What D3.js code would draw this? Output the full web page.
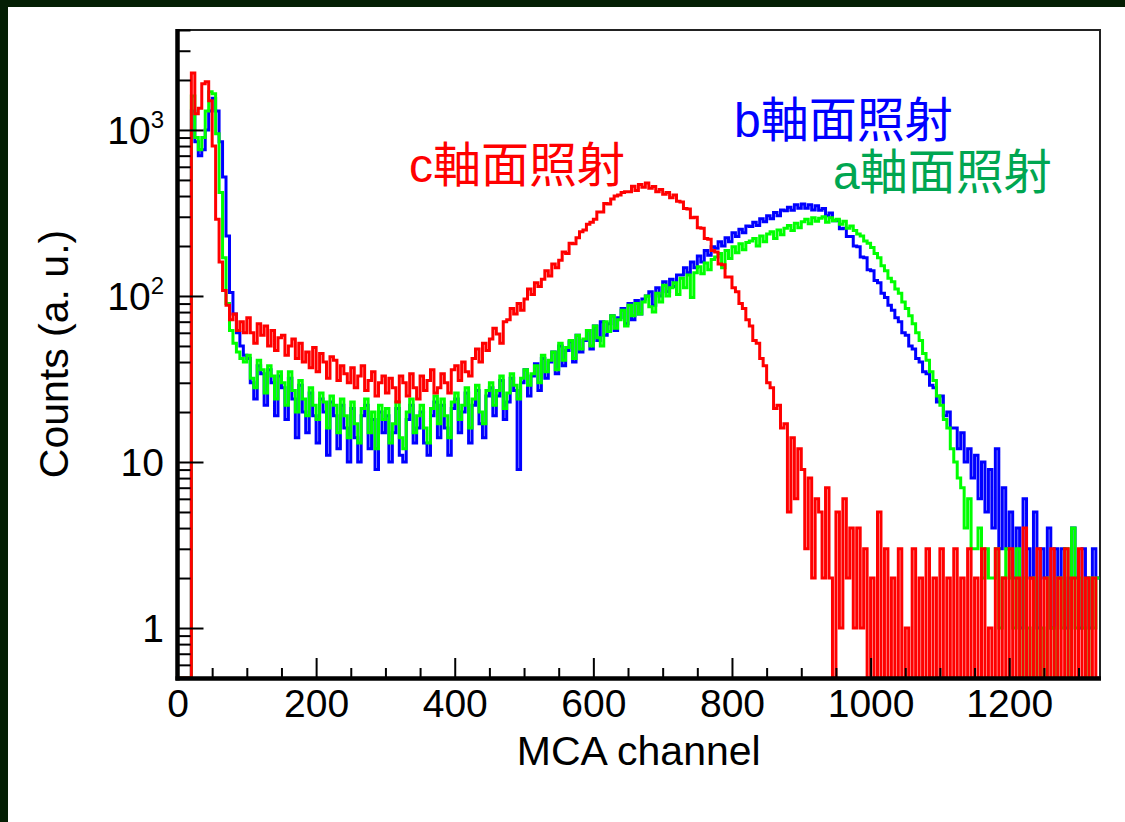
<!DOCTYPE html>
<html>
<head>
<meta charset="utf-8">
<script src="https://cdn.jsdelivr.net/npm/d3@7"></script>
<style>
  html, body { margin: 0; padding: 0; background: #ffffff; }
  svg { display: block; }
</style>
</head>
<body>
<svg id="chart" width="1125" height="822"></svg>
<script>
// ---------------- DATA (counts per 5-channel bin, starting at channel 0) ----------------
const binWidth = 5;
const channelMax = 1331;
const countRange = [0.5, 4000];

// c-axis irradiation (red)
const countsC = [
  0,0,0,0,
  2200,1250,1350,1900,1950,1500,800,290,160,108,88,72,78,62,70,60,
  74,60,52,68,58, 66,50,62,47,56, 58,44,50,55,42, 52,40,46,37,49,
  35,45,40,32,43, 41,31,38,34,30, 37,28,33,38,27, 31,35,25,30,33,
  26,32,28,23,33, 30,25,34,28,24, 33,27,31,36,26, 28,34,30,26,36,
  38,31,40,35,33, 42,48,40,52,47, 55,64,59,52,70, 72,84,78,90,82,
  96,110,102,120,114, 126,142,132,156,148, 164,184,180,208,206, 224,244,250,270,278,
  290,320,320,360,358, 384,400,406,420,424, 424,458,432,470,452, 480,446,456,424,438,
  410,420,390,406,372, 368,336,334,296,298, 258,256,222,220,188, 184,156,154,130,130,
  112,106,90,84,72, 66,54,52,42,38, 30,28,21,22,16, 17,5,14,6,12,
  9,3,8,2,6, 5,2,7,2,0, 5,1,6,2,4, 1,4,1,3,0,
  2,0,5,0,3, 0,2,0,3,0, 1,0,3,0,2, 0,3,0,2,0,
  3,0,2,0,3, 0,2,0,3,0, 2,0,3,0,1, 0,3,0,2,0,
  3,0,2,0,4, 0,2,0,3,0, 2,0,3,0,2, 0,3,0,2,0,
  3,0,2,0,2, 0
];

// b-axis irradiation (blue)
const countsB = [
  0,0,0,0,
  1300,850,700,760,1000,1300,1550,1300,850,520,230,105,78,60,50,44,
  42,30,24,38,34, 22,36,30,19,33, 28,18,32,24,14, 29,20,15,26,19,
  13,24,20,11,23, 19,12,22,16,10, 21,14,10,19,22, 12,18,9,20,15,
  19,10,15,21,11, 10,18,22,13,16, 20,13,11,19,23, 14,22,16,11,21,
  24,15,20,26,13, 22,27,17,14,25, 28,19,25,31,18, 23,32,27,9,30,
  36,25,33,39,27, 42,32,40,46,34, 50,38,47,53,40, 58,46,54,62,48,
  66,54,70,58,68, 76,62,74,84,68, 90,72,94,78,96, 100,106,88,112,100,
  122,106,126,114,134, 134,148,138,160,148, 174,160,188,176,198, 194,212,200,224,212,
  240,228,252,240,264, 262,278,266,292,280, 304,292,318,304,330, 326,342,328,354,338,
  358,338,354,330,350, 328,336,304,316,284, 284,254,256,228,228, 200,198,172,170,144,
  142,124,120,104,98, 88,82,74,70,60, 58,50,48,42,40, 35,34,29,28,23,
  25,19,20,16,16, 12,15,10,12,8, 11,6,10,5,9, 4,12,3,7,3,
  5,2,4,1,6, 3,2,5,1,3, 2,4,1,3,2, 3,1,2,4,2,
  1,3,2,1,3, 2
];

// a-axis irradiation (green)
const countsA = [
  0,0,0,0,
  1600,900,760,900,1300,1700,1650,950,420,170,90,62,52,46,42,40,
  44,32,28,41,36, 26,38,33,24,35, 30,22,35,27,20, 31,24,19,28,22,
  18,26,23,16,25, 22,15,24,19,14, 23,17,13,21,24, 15,20,12,22,18,
  21,13,17,23,14, 12,20,24,15,19, 22,16,13,21,25, 17,24,19,14,23,
  26,18,22,28,16, 24,29,20,17,27, 30,22,27,33,21, 26,34,29,24,32,
  36,29,34,38,30, 44,35,41,46,36, 52,41,49,54,42, 58,48,55,62,50,
  66,56,50,70,61, 76,64,72,82,66, 88,76,90,78,92, 100,86,80,104,92,
  116,100,112,120,102, 128,112,134,98,138, 150,136,158,144,166, 172,180,148,188,168,
  198,182,206,190,210, 214,222,200,230,212, 236,244,222,250,234, 256,266,248,274,258,
  280,290,272,296,282, 294,300,278,296,284, 290,270,282,256,264, 248,236,230,214,208,
  196,180,170,152,142, 128,122,110,104,92, 84,76,68,60,54, 45,41,35,31,25,
  22,18,16,12,10, 8,7,4,6,3, 3,4,2,3,2, 2,3,1,2,3,
  2,1,3,0,2, 1,0,2,0,1, 0,2,1,0,2, 1,3,0,4,1,
  2,1,0,2,1, 2
];

const xTicksMajor = [0, 200, 400, 600, 800, 1000, 1200];
const yTicksMajor = [1, 10, 100, 1000];
const yTickBase = ["1", "10", "10", "10"];
const yTickExp  = ["", "", "2", "3"];

const seriesNames = ["b軸面照射", "a軸面照射", "c軸面照射"];
const seriesData = [countsB, countsA, countsC];
const seriesLine = ["#0000ff", "#00ff00", "#ff0000"];
const seriesLabelColor = ["#0000ff", "#00a651", "#ff0000"];
const labelPos = [[734, 137], [833, 189], [409, 182]];

// ---------------- LAYOUT ----------------
const svg = d3.select("#chart");
const W = 1125, H = 822;
const plot = { left: 177.5, right: 1100, top: 30, bottom: 678 };

svg.append("rect").attr("x", 0).attr("y", 0).attr("width", W).attr("height", H).attr("fill", "#041f04");
svg.append("rect").attr("x", 8).attr("y", 7).attr("width", W - 8).attr("height", H - 7).attr("fill", "#ffffff");

const x = d3.scaleLinear().domain([0, channelMax]).range([plot.left, plot.right]);
const y = d3.scaleLog().domain(countRange).range([plot.bottom, plot.top]);

svg.append("defs").append("clipPath").attr("id", "clip")
  .append("rect").attr("x", plot.left).attr("y", plot.top)
  .attr("width", plot.right - plot.left).attr("height", plot.bottom - plot.top);

// frame
svg.append("rect").attr("x", plot.left).attr("y", plot.top)
  .attr("width", plot.right - plot.left).attr("height", plot.bottom - plot.top)
  .attr("fill", "none").attr("stroke", "#222").attr("stroke-width", 2);

// histograms
const line = d3.line()
  .x(d => x(d[0]))
  .y(d => y(d[1] > 0 ? d[1] : countRange[0]))
  .curve(d3.curveStepAfter);

const gData = svg.append("g").attr("clip-path", "url(#clip)");
seriesData.forEach((vals, k) => {
  const pts = vals.map((v, i) => [i * binWidth, v]);
  pts.push([vals.length * binWidth, vals[vals.length - 1]]);
  gData.append("path")
    .attr("d", line(pts))
    .attr("fill", "none")
    .attr("stroke", seriesLine[k])
    .attr("stroke-width", 3)
    .attr("stroke-linejoin", "miter");
});

// axes
const fontLatin = "'Liberation Sans', Arial, Helvetica, sans-serif";
const xMinor = d3.range(0, channelMax, 50).filter(v => v % 200 !== 0);
const yMinor = [];
[0.1, 1, 10, 100, 1000].forEach(dec => {
  for (let m = 2; m <= 9; m++) {
    const v = dec * m;
    if (v >= countRange[0] && v <= countRange[1]) yMinor.push(v);
  }
});

const gx = svg.append("g").attr("transform", `translate(0,${plot.bottom})`);
gx.call(d3.axisBottom(x).tickValues(xMinor).tickSize(-10).tickSizeOuter(0).tickFormat(""));
gx.selectAll(".tick line").attr("stroke", "#000").attr("stroke-width", 2);
const gx2 = svg.append("g").attr("transform", `translate(0,${plot.bottom})`);
gx2.call(d3.axisBottom(x).tickValues(xTicksMajor).tickSize(-20).tickSizeOuter(0).tickPadding(11).tickFormat(d3.format("d")));
gx2.selectAll(".tick line").attr("stroke", "#000").attr("stroke-width", 2);
gx2.selectAll(".tick text").attr("font-family", fontLatin).attr("font-size", 39).attr("fill", "#000");

const gy = svg.append("g").attr("transform", `translate(${plot.left},0)`);
gy.call(d3.axisLeft(y).tickValues(yMinor).tickSize(-13).tickSizeOuter(0).tickFormat(""));
gy.selectAll(".tick line").attr("stroke", "#000").attr("stroke-width", 2);
const gy2 = svg.append("g").attr("transform", `translate(${plot.left},0)`);
gy2.call(d3.axisLeft(y).tickValues(yTicksMajor).tickSize(-26).tickSizeOuter(0).tickFormat(""));
gy2.selectAll(".tick line").attr("stroke", "#000").attr("stroke-width", 2);
svg.selectAll(".domain").remove();

// thick axis lines
svg.append("line").attr("x1", plot.left).attr("x2", plot.left).attr("y1", plot.top - 1).attr("y2", plot.bottom + 2.5)
  .attr("stroke", "#000").attr("stroke-width", 4.5);
svg.append("line").attr("x1", plot.left - 2).attr("x2", plot.right + 1).attr("y1", plot.bottom + 0.5).attr("y2", plot.bottom + 0.5)
  .attr("stroke", "#000").attr("stroke-width", 4.5);

// y tick labels with superscripts
yTicksMajor.forEach((v, i) => {
  const t = svg.append("text")
    .attr("x", 164).attr("y", y(v) + 14)
    .attr("text-anchor", "end")
    .attr("font-family", fontLatin).attr("font-size", 39).attr("fill", "#000");
  t.append("tspan").text(yTickBase[i]);
  if (yTickExp[i]) {
    t.append("tspan").attr("font-size", 24).attr("dy", -16).text(yTickExp[i]);
  }
});

// axis titles
svg.append("text")
  .attr("x", (plot.left + plot.right) / 2).attr("y", 765)
  .attr("text-anchor", "middle")
  .attr("font-family", fontLatin).attr("font-size", 41).attr("fill", "#000")
  .text("MCA channel");
svg.append("text")
  .attr("transform", `translate(68,${(plot.top + plot.bottom) / 2}) rotate(-90)`)
  .attr("text-anchor", "middle")
  .attr("font-family", fontLatin).attr("font-size", 41).attr("fill", "#000")
  .text("Counts (a. u.)");

// series labels
seriesNames.forEach((name, k) => {
  svg.append("text")
    .attr("x", labelPos[k][0]).attr("y", labelPos[k][1])
    .attr("font-family", "'Liberation Sans', 'Noto Sans CJK JP', sans-serif")
    .attr("font-size", 48)
    .attr("fill", seriesLabelColor[k])
    .text(name);
});
</script>
</body>
</html>
